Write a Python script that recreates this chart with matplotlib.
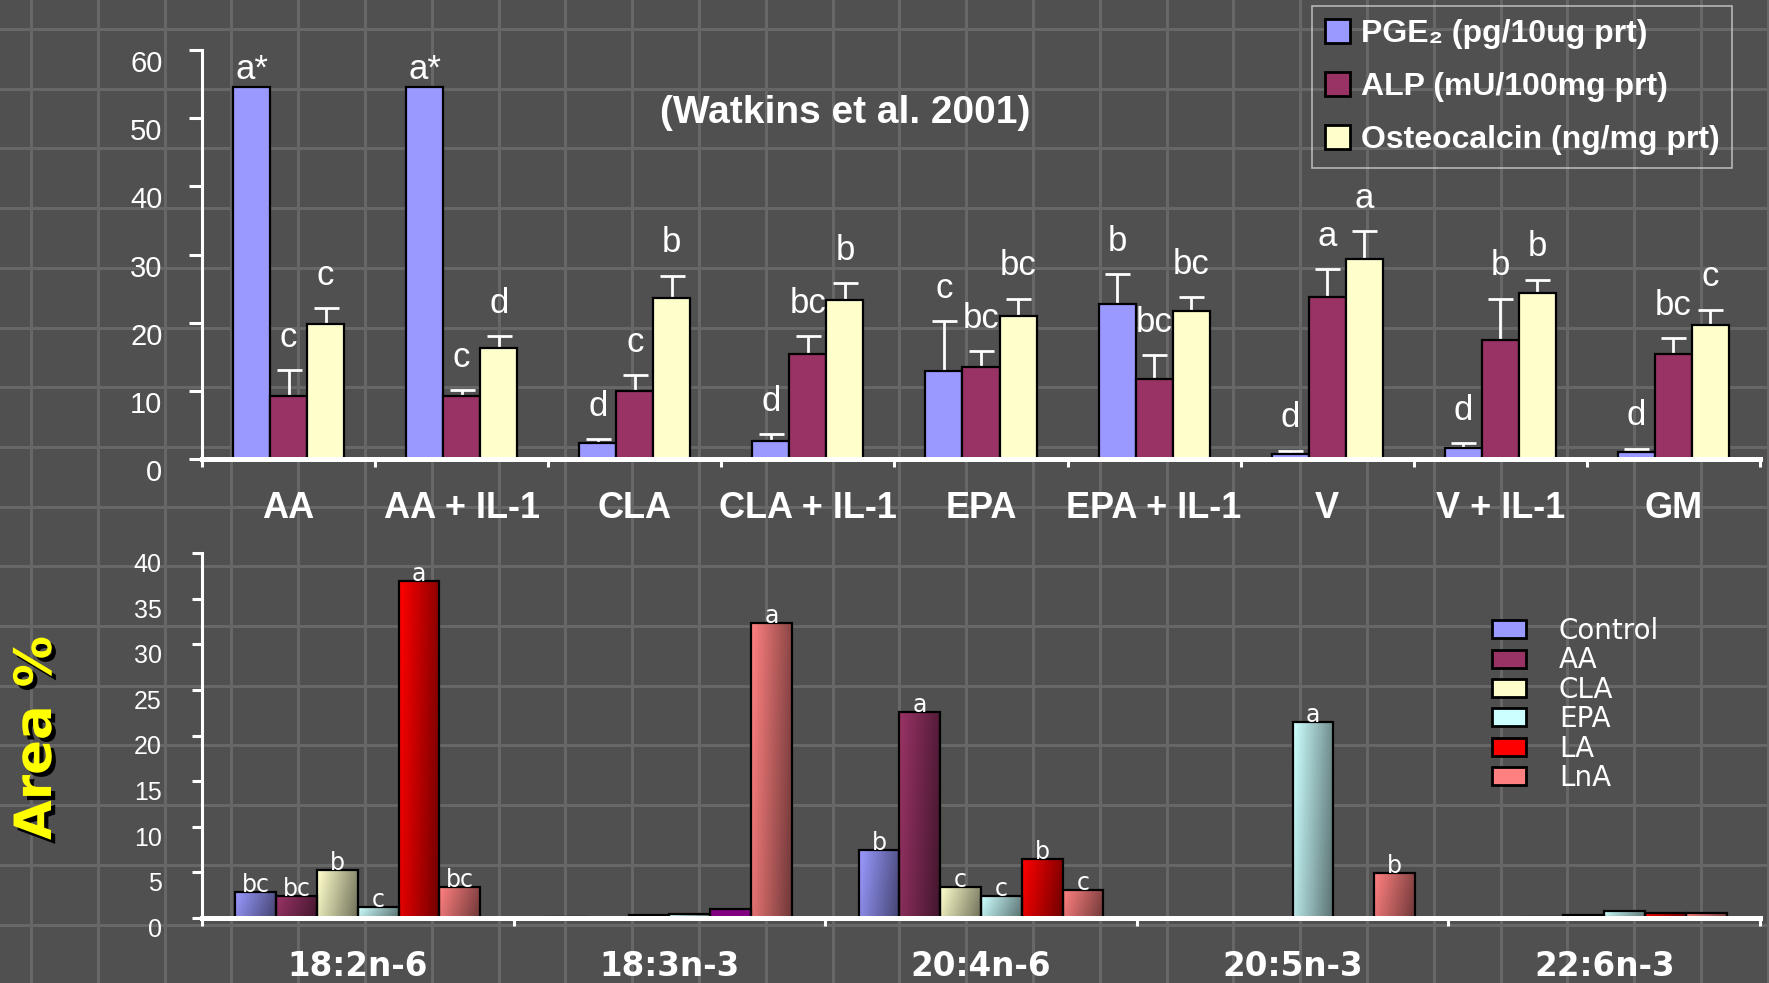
import matplotlib
matplotlib.use('Agg')
import matplotlib.pyplot as plt
import matplotlib.colors as mcolors
import matplotlib.patheffects as pe
from matplotlib.patches import Patch
import numpy as np

# Upper panel: PGE2, ALP and osteocalcin per treatment (Watkins et al. 2001)
treatments = ['AA', 'AA + IL-1', 'CLA', 'CLA + IL-1', 'EPA', 'EPA + IL-1', 'V', 'V + IL-1', 'GM']
pge = [54.5, 54.5, 2.4, 2.6, 12.9, 22.8, 0.7, 1.6, 1.0]
pge_err = [0, 0, 0.5, 1.0, 7.3, 4.3, 0.5, 0.7, 0.5]
alp = [9.3, 9.3, 10.0, 15.4, 13.5, 11.8, 23.8, 17.5, 15.4]
alp_err = [3.7, 0.8, 2.3, 2.6, 2.3, 3.4, 4.0, 6.0, 2.3]
osteo = [19.8, 16.3, 23.6, 23.3, 21.0, 21.7, 29.4, 24.3, 19.6]
osteo_err = [2.3, 1.7, 3.3, 2.5, 2.5, 2.0, 4.0, 2.0, 2.3]
pge_sig = ['a*', 'a*', 'd', 'd', 'c', 'b', 'd', 'd', 'd']
alp_sig = ['c', 'c', 'c', 'bc', 'bc', 'bc', 'a', 'b', 'bc']
osteo_sig = ['c', 'd', 'b', 'b', 'bc', 'bc', 'a', 'b', 'c']
top_labels = ['PGE\u2082 (pg/10ug prt)', 'ALP (mU/100mg prt)', 'Osteocalcin (ng/mg prt)']

# Lower panel: fatty acid composition (area %)
fatty_acids = ['18:2n-6', '18:3n-3', '20:4n-6', '20:5n-3', '22:6n-3']
diets = ['Control', 'AA', 'CLA', 'EPA', 'LA', 'LnA']
control = [2.8, 0.1, 7.4, 0, 0]
aa = [2.45, 0, 22.6, 0, 0.1]
cla = [5.3, 0.3, 3.4, 0, 0.35]
epa = [1.25, 0.45, 2.4, 21.5, 0.75]
la = [36.9, 1.0, 6.5, 0, 0.6]
lna = [3.4, 32.3, 3.1, 4.9, 0.6]
control_sig = ['bc', '', 'b', '', '']
aa_sig = ['bc', '', 'a', '', '']
cla_sig = ['b', '', 'c', '', '']
epa_sig = ['c', '', 'c', 'a', '']
la_sig = ['a', '', 'b', '', '']
lna_sig = ['bc', 'a', 'c', 'b', '']

top_colors = ['#9999ff', '#993366', '#ffffcc']
bottom_colors = ['#9999ff', '#993366', '#ffffcc', '#ccffff', '#ff0000', '#ff8080']

plt.rcParams['font.family'] = ['Liberation Sans', 'DejaVu Sans']

W, H = 1769, 983
fig = plt.figure(figsize=(W / 100, H / 100), dpi=100, facecolor='#505050')

# slide background grid
bg = fig.add_axes([0, 0, 1, 1], zorder=-10)
bg.set_xlim(0, W)
bg.set_ylim(H, 0)
bg.axis('off')
for gx in np.arange(31, W, 66.8):
    bg.axvline(gx, color='#676767', lw=2.2)
for gy in np.arange(29, H, 59.7):
    bg.axhline(gy, color='#676767', lw=2.2)


def style_axes(ax, ymax, ystep, tick_len, ypad, ysize):
    ax.set_facecolor('none')
    for s in ['top', 'right']:
        ax.spines[s].set_visible(False)
    ax.spines['left'].set_color('white')
    ax.spines['left'].set_linewidth(2.2)
    ax.spines['bottom'].set_color('white')
    ax.spines['bottom'].set_linewidth(3.6)
    ax.spines['bottom'].set_zorder(6)
    ax.set_ylim(0, ymax)
    ax.set_yticks(np.arange(0, ymax + 1, ystep))
    ax.tick_params(axis='y', colors='white', length=tick_len, width=2.2, pad=ypad, labelsize=ysize)
    for t in ax.get_yticklabels():
        t.set_verticalalignment('top')


# ---- upper panel ----
ax1 = fig.add_axes([202 / W, 1 - 459 / H, (1760 - 202) / W, (459 - 50) / H])
x = np.arange(len(treatments))
w = 0.214
series = [(pge, pge_err, pge_sig), (alp, alp_err, alp_sig), (osteo, osteo_err, osteo_sig)]
for i, (vals, errs, sig) in enumerate(series):
    xs = x + (i - 1) * w
    ax1.bar(xs, vals, w, color=top_colors[i], edgecolor='black', lw=1.6, zorder=3)
    vals = np.array(vals)
    errs = np.array(errs)
    m = errs > 0
    ax1.errorbar(xs[m], vals[m], yerr=[np.zeros(m.sum()), errs[m]], fmt='none',
                 ecolor='white', elinewidth=2, capsize=9, capthick=2, zorder=2)
    for xi, v, e, s in zip(xs, vals, errs, sig):
        ax1.annotate(s, (xi, v + e), xytext=(0, 17 if e > 0 else 6), textcoords='offset points',
                     ha='center', va='baseline', fontsize=25, color='white')

style_axes(ax1, 60, 10, 9.5, 19, 21)
ax1.set_xlim(-0.5, len(treatments) - 0.5)
ax1.set_xticks(x)
ax1.set_xticklabels(treatments, fontsize=26, fontweight='bold')
ax1.set_xticks(np.arange(-0.5, len(treatments)), minor=True)
ax1.tick_params(axis='x', which='major', length=0, pad=23, labelcolor='white')
ax1.tick_params(axis='x', which='minor', length=6, width=2.2, color='white')

ax1.text(845 / W, 1 - 113 / H, '(Watkins et al. 2001)', transform=fig.transFigure,
         ha='center', va='center', fontsize=28, fontweight='bold', color='white')

top_handles = [Patch(facecolor=c, edgecolor='black', lw=2) for c in top_colors]
leg1 = fig.legend(top_handles, top_labels, loc='upper left',
                  bbox_to_anchor=(1312 / W, 1 - 6 / H), bbox_transform=fig.transFigure,
                  frameon=True, fancybox=False, facecolor='none', edgecolor='#cfcfcf',
                  prop={'family': ['Liberation Sans', 'DejaVu Sans'], 'weight': 'bold', 'size': 23},
                  labelcolor='white', handlelength=0.78, handleheight=0.78, handletextpad=0.35,
                  labelspacing=0.72, borderpad=0.4, borderaxespad=0)
leg1.get_frame().set_linewidth(1.2)

# ---- lower panel ----
ax2 = fig.add_axes([202 / W, 1 - 918 / H, (1760 - 202) / W, (918 - 553) / H])
x2 = np.arange(len(fatty_acids))
w2 = 0.131
groups = [(control, control_sig), (aa, aa_sig), (cla, cla_sig), (epa, epa_sig), (la, la_sig), (lna, lna_sig)]
odd_bar = (4, 1)  # LA bar at 18:3n-3 is plain purple in the original
for i, (vals, sig) in enumerate(groups):
    xs = x2 + (i - 2.5) * w2
    bars = ax2.bar(xs, vals, w2, facecolor='none', edgecolor='black', lw=1.6, zorder=3)
    base = np.array(mcolors.to_rgb(bottom_colors[i]))
    dark = base * 0.45
    gx, gy = np.meshgrid(np.linspace(0, 1, 16), np.linspace(0, 1, 32))
    t = (0.8 * gx + 0.2 * gy)[..., None]
    img = base * (1 - t) + dark * t
    for j, b in enumerate(bars):
        h = b.get_height()
        if h <= 0:
            continue
        if (i, j) == odd_bar:
            b.set_facecolor('#800080')
            continue
        x0 = b.get_x()
        ax2.imshow(img, extent=(x0, x0 + w2, 0, h), aspect='auto', origin='upper',
                   interpolation='bilinear', zorder=2.5)
    for xi, v, s in zip(xs, vals, sig):
        if s:
            ax2.text(xi, v, s, ha='center', va='baseline', fontsize=17, color='white',
                     family='DejaVu Sans', zorder=4)

style_axes(ax2, 40, 5, 7, 22, 18)
ax2.set_xlim(-0.5, len(fatty_acids) - 0.5)
ax2.set_xticks(x2)
ax2.set_xticklabels(fatty_acids, fontsize=23.5, fontweight='bold', family='DejaVu Sans')
ax2.set_xticks(np.arange(-0.5, len(fatty_acids)), minor=True)
ax2.tick_params(axis='x', which='major', length=0, pad=23, labelcolor='white')
ax2.tick_params(axis='x', which='minor', length=6, width=2.2, color='white')

bottom_handles = [Patch(facecolor=c, edgecolor='black', lw=2) for c in bottom_colors]
fig.legend(bottom_handles, diets, loc='upper left',
           bbox_to_anchor=(1492 / W, 1 - 617 / H), bbox_transform=fig.transFigure,
           frameon=False, prop={'family': 'DejaVu Sans', 'size': 20}, labelcolor='white',
           handlelength=1.24, handleheight=0.62, handletextpad=1.17, labelspacing=0.05,
           borderpad=0, borderaxespad=0)

fig.text(37 / W, 1 - 738 / H, 'Area %', rotation=90, ha='center', va='center',
         fontsize=37, fontweight='bold', color='#ffff00', family='DejaVu Sans',
         path_effects=[pe.withSimplePatchShadow(offset=(3, -3), shadow_rgbFace='black', alpha=1)])

fig.savefig('out.png', dpi=100, facecolor=fig.get_facecolor())
